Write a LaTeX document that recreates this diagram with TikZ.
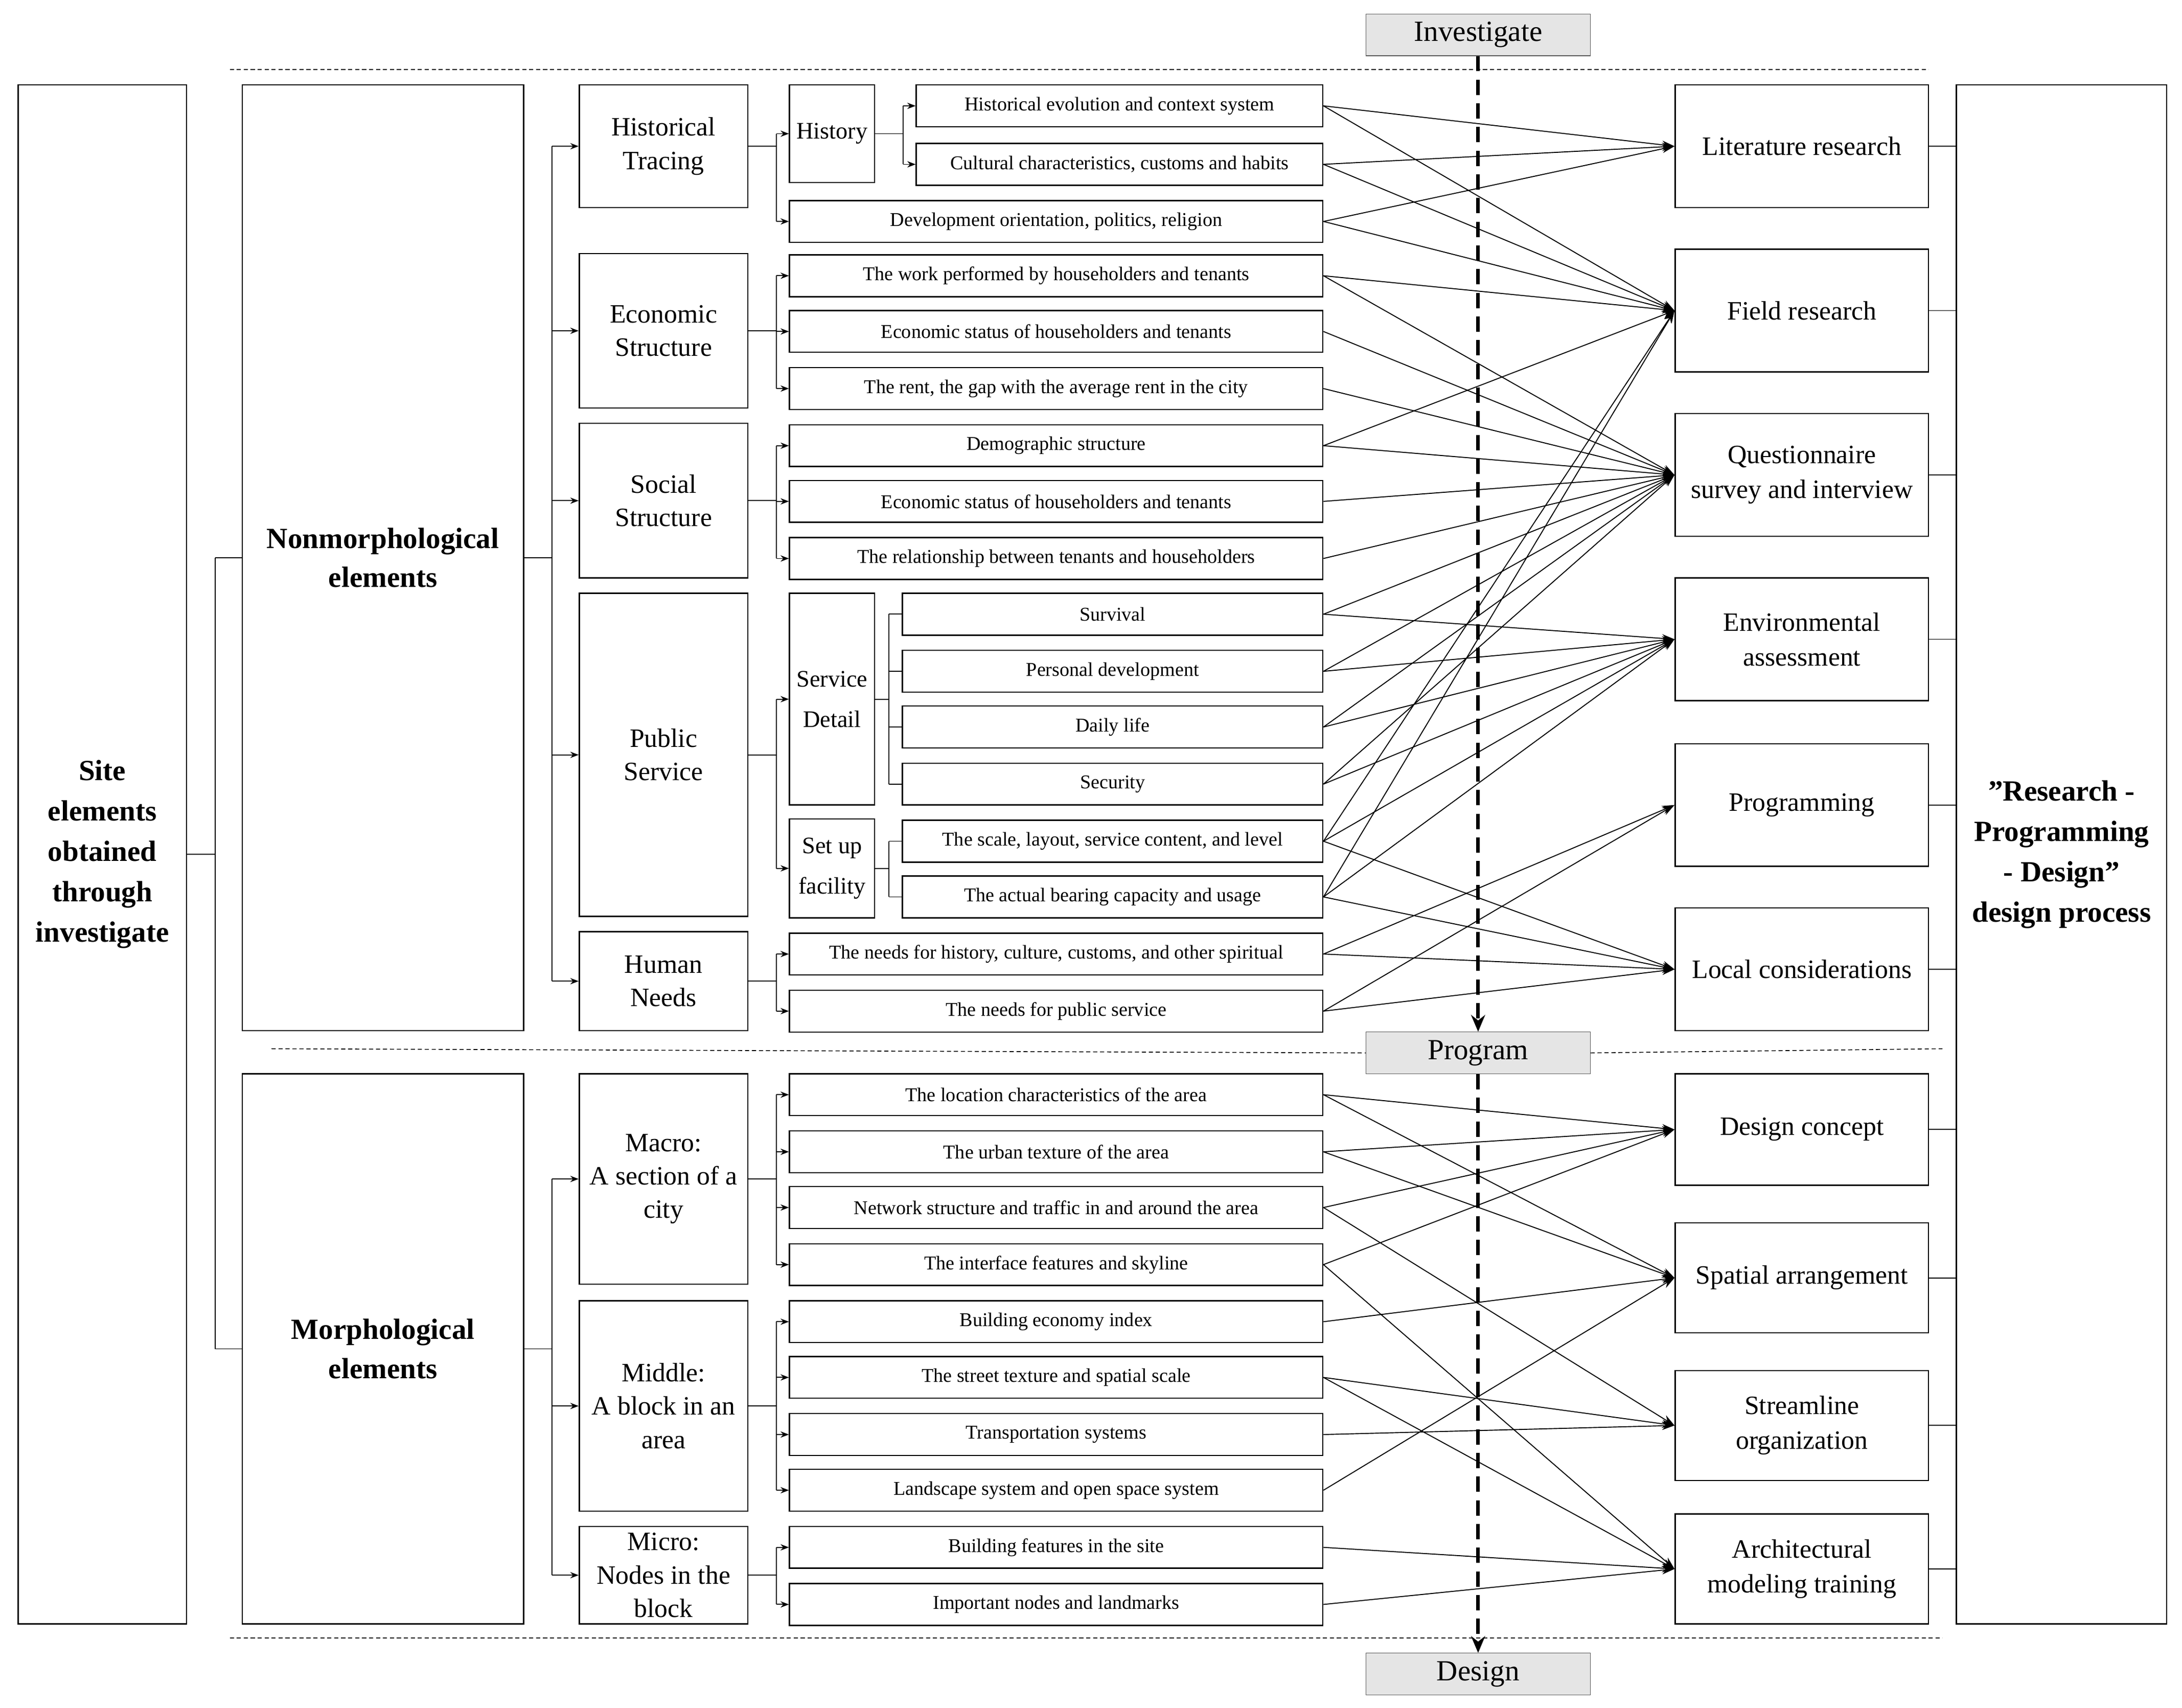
\documentclass[tikz,border=0pt]{standalone}
\usepackage{fontspec}
\setmainfont{Liberation Serif}
\usetikzlibrary{arrows.meta,positioning}

\tikzset{
  box/.style={draw, line width=0.9pt, inner sep=1pt, align=center},
  item/.style={box, minimum height=30pt, font=\fontsize{14}{16}\selectfont},
  cat/.style={box, minimum width=121pt, font=\fontsize{19}{24}\selectfont},
  goal/.style={box, minimum width=182pt, font=\fontsize{19}{25}\selectfont},
  stage/.style={draw=gray!70!black, fill=gray!20, minimum width=161pt, minimum height=30pt, inner sep=0pt, font=\fontsize{21}{24}\selectfont},
  arr/.style={-{Stealth[length=9pt,width=6pt]}, line width=0.7pt},
  tip/.style={-{Stealth[length=6pt,width=4.5pt]}, line width=0.7pt},
  sep/.style={dash pattern=on 3pt off 2pt, line width=0.6pt}
}

\begin{document}
\begin{tikzpicture}[x=1pt, y=-1pt]
\useasboundingbox (0,0) rectangle (1567,1226);

% big boxes
\node[box, minimum width=121pt, minimum height=1105pt, font=\bfseries\fontsize{21}{29}\selectfont] (site) at (73.5,613.5) {Site\\elements\\obtained\\through\\investigate};
\node[box, minimum width=202pt, minimum height=679pt, font=\bfseries\fontsize{21}{28}\selectfont] (non) at (275,400.5) {Nonmorphological\\elements};
\node[box, minimum width=202pt, minimum height=395pt, font=\bfseries\fontsize{21}{28}\selectfont] (mor) at (275,968.5) {Morphological\\elements};
\node[box, minimum width=151pt, minimum height=1105pt, font=\bfseries\fontsize{21}{29}\selectfont] (rpd) at (1480.5,613.5) {"Research -\\Programming\\- Design"\\design process};

% categories
\node[cat, minimum height=88pt] (his) at (476.5,105) {Historical\\Tracing};
\node[cat, minimum height=111pt] (eco) at (476.5,237.5) {Economic\\Structure};
\node[cat, minimum height=111pt] (soc) at (476.5,359.5) {Social\\Structure};
\node[cat, minimum height=232pt] (pub) at (476.5,542) {Public\\Service};
\node[cat, minimum height=71pt] (hum) at (476.5,704.5) {Human\\Needs};
\node[cat, minimum height=151pt] (mac) at (476.5,846.5) {Macro:\\A section of a\\city};
\node[cat, minimum height=151pt] (mid) at (476.5,1009.5) {Middle:\\A block in an\\area};
\node[cat, minimum height=70pt] (mic) at (476.5,1131) {Micro:\\Nodes in the\\block};

% sub groups
\node[box, minimum width=61pt, minimum height=70pt, font=\fontsize{17}{20}\selectfont] (hst) at (597.5,96) {History};
\node[box, minimum width=61pt, minimum height=152pt, font=\fontsize{17}{29}\selectfont] (sdt) at (597.5,502) {Service\\Detail};
\node[box, minimum width=61pt, minimum height=71pt, font=\fontsize{17}{29}\selectfont] (fac) at (597.5,623.5) {Set up\\facility};

% items
\foreach \n/\y/\t in {h1/76/Historical evolution and context system, h2/118/{Cultural characteristics, customs and habits}}
  \node[item, minimum width=292pt] (\n) at (804,\y) {\t};
\foreach \n/\y/\t in {p1/441/Survival, p2/482/Personal development, p3/522/Daily life, p4/563/Security,
    f1/604/{The scale, layout, service content, and level}, f2/644/The actual bearing capacity and usage}
  \node[item, minimum width=302pt] (\n) at (799,\y) {\t};
\foreach \n/\y/\t in {h3/159/{Development orientation, politics, religion},
    e1/198/The work performed by householders and tenants,
    e2/238/Economic status of householders and tenants,
    e3/279/{The rent, the gap with the average rent in the city},
    s1/320/Demographic structure,
    s2/360/Economic status of householders and tenants,
    s3/401/The relationship between tenants and householders,
    n1/685/{The needs for history, culture, customs, and other spiritual},
    n2/726/The needs for public service,
    m1/786/The location characteristics of the area,
    m2/827/The urban texture of the area,
    m3/867/Network structure and traffic in and around the area,
    m4/908/The interface features and skyline,
    d1/949/Building economy index,
    d2/989/The street texture and spatial scale,
    d3/1030/Transportation systems,
    d4/1070/Landscape system and open space system,
    c1/1111/Building features in the site,
    c2/1152/Important nodes and landmarks}
  \node[item, minimum width=383pt] (\n) at (758.5,\y) {\t};

% methods
\node[goal, minimum height=88pt] (lit) at (1294,105) {Literature research};
\node[goal, minimum height=88pt] (fld) at (1294,223) {Field research};
\node[goal, minimum height=88pt] (que) at (1294,341) {Questionnaire\\survey and interview};
\node[goal, minimum height=88pt] (env) at (1294,459) {Environmental\\assessment};
\node[goal, minimum height=88pt] (prg) at (1294,578) {Programming};
\node[goal, minimum height=88pt] (loc) at (1294,696) {Local considerations};
\node[goal, minimum height=80pt] (dcn) at (1294,811) {Design concept};
\node[goal, minimum height=79pt] (spa) at (1294,917.5) {Spatial arrangement};
\node[goal, minimum height=79pt] (str) at (1294,1023.5) {Streamline\\organization};
\node[goal, minimum height=79pt] (arc) at (1294,1126.5) {Architectural\\modeling training};

% stages
\node[stage] (inv) at (1061.5,25) {Investigate};
\node[stage] (pro) at (1061.5,756) {Program};
\node[stage] (des) at (1061.5,1202) {Design};
\draw[sep] (165,50) -- (1385,50);
\draw[sep] (195,753) -- (pro.west);
\draw[sep] (pro.east) -- (1395,753);
\draw[sep] (165,1176) -- (1395,1176);
\draw[line width=2.6pt, dash pattern=on 11pt off 6pt, -{Stealth[length=12pt,width=10pt]}] (inv) -- (pro);
\draw[line width=2.6pt, dash pattern=on 11pt off 6pt, -{Stealth[length=12pt,width=10pt]}] (pro) -- (des);

% tree on the left
\draw[line width=0.7pt] (site.east) -- ++(20,0) coordinate (t0);
\draw[line width=0.7pt] (t0 |- non.east) -- (t0 |- mor.east);
\draw[line width=0.7pt] (t0 |- non.east) -- (non.west);
\draw[line width=0.7pt] (t0 |- mor.east) -- (mor.west);

\draw[line width=0.7pt] (non.east) -- ++(20,0) coordinate (t1);
\draw[line width=0.7pt] (t1 |- his.west) -- (t1 |- hum.west);
\foreach \c in {his,eco,soc,pub,hum}
  \draw[tip] (t1 |- \c.west) -- (\c.west);
\draw[line width=0.7pt] (mor.east) -- ++(20,0) coordinate (t2);
\draw[line width=0.7pt] (t2 |- mac.west) -- (t2 |- mic.west);
\foreach \c in {mac,mid,mic}
  \draw[tip] (t2 |- \c.west) -- (\c.west);

% category to items
\foreach \c/\a/\b/\l in {his/hst/h3/{hst,h3}, eco/e1/e3/{e1,e2,e3}, soc/s1/s3/{s1,s2,s3},
    pub/sdt/fac/{sdt,fac}, hum/n1/n2/{n1,n2}, mac/m1/m4/{m1,m2,m3,m4},
    mid/d1/d4/{d1,d2,d3,d4}, mic/c1/c2/{c1,c2}} {
  \draw[line width=0.7pt] (\c.east) -- ++(20,0) coordinate (k);
  \draw[line width=0.7pt] (k |- \a.west) -- (k |- \b.west);
  \foreach \i in \l
    \draw[tip] (k |- \i.west) -- (\i.west);
}
\draw[line width=0.7pt] (hst.east) -- ++(20,0) coordinate (k);
\draw[line width=0.7pt] (k |- h1.west) -- (k |- h2.west);
\foreach \i in {h1,h2}
  \draw[tip] (k |- \i.west) -- (\i.west);
\draw[line width=0.7pt] (sdt.east) -- ++(10,0) coordinate (k);
\draw[line width=0.7pt] (k |- p1.west) -- (k |- p4.west);
\foreach \i in {p1,p2,p3,p4}
  \draw[line width=0.7pt] (k |- \i.west) -- (\i.west);
\draw[line width=0.7pt] (fac.east) -- ++(10,0) coordinate (k);
\draw[line width=0.7pt] (k |- f1.west) -- (k |- f2.west);
\foreach \i in {f1,f2}
  \draw[line width=0.7pt] (k |- \i.west) -- (\i.west);

% items to methods
\foreach \a/\b in {h1/lit, h1/fld, h2/lit, h2/fld, h3/lit, h3/fld,
    e1/fld, e1/que, e2/que, e3/que, s1/fld, s1/que, s2/que, s3/que,
    p1/que, p1/env, p2/que, p2/env, p3/que, p3/env, p4/que, p4/env,
    f1/fld, f1/env, f1/loc, f2/fld, f2/env, f2/loc,
    n1/prg, n1/loc, n2/prg, n2/loc,
    m1/dcn, m1/spa, m2/dcn, m2/spa, m3/dcn, m3/str, m4/dcn, m4/arc,
    d1/spa, d2/str, d2/arc, d3/str, d4/spa, c1/arc, c2/arc}
  \draw[arr] (\a.east) -- (\b.west);

% methods to process
\foreach \g in {lit,fld,que,env,prg,loc,dcn,spa,str,arc}
  \draw[line width=0.7pt] (\g.east) -- (\g.east -| rpd.west);

\end{tikzpicture}
\end{document}
